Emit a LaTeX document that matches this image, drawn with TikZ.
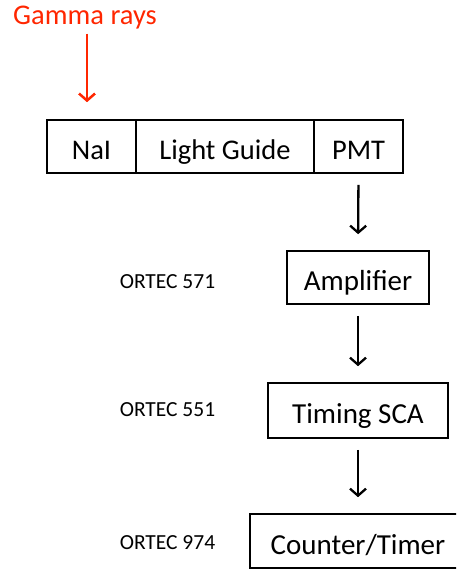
\documentclass[tikz,border=0pt]{standalone}
\usepackage{fontspec}
\setmainfont{Carlito}
\usetikzlibrary{arrows.meta}
\definecolor{gred}{RGB}{255,38,0}
\tikzset{
  cell/.style={draw=black, line width=1.6pt, minimum height=53pt, inner sep=0pt, text height=28pt, text depth=2pt, font=\fontsize{28.5pt}{30pt}\selectfont},
  devbox/.style={draw=black, line width=1.6pt, inner sep=0pt, text height=28pt, text depth=2pt, font=\fontsize{29pt}{31pt}\selectfont},
  model/.style={inner sep=0pt, font=\fontsize{21.5pt}{23pt}\selectfont},
  flow/.style={line width=2.3pt, -{Straight Barb[length=7pt,width=16pt]}, shorten <=11pt, shorten >=16pt},
  gammaarrow/.style={draw=gred, line width=2.5pt, -{Straight Barb[length=7pt,width=16pt]}}
}
\begin{document}
\begin{tikzpicture}[x=1pt,y=1pt]
\clip (0,0) rectangle (456,-569);
\node[inner sep=0pt, text=gred, font=\fontsize{28.5pt}{30pt}\selectfont] (gamma) at (85,-18) {Gamma rays};
\node[cell, minimum width=89pt] (nai) at (91.5,-146.5) {NaI};
\node[cell, minimum width=178pt] (lg) at (225,-146.5) {Light Guide};
\node[cell, minimum width=89pt] (pmt) at (358.5,-146.5) {PMT};
\node[devbox, minimum width=142pt, minimum height=53pt] (amp) at (358,-277.5) {Amplifier};
\node[devbox, minimum width=180pt, minimum height=55pt] (sca) at (358,-410.5) {Timing SCA};
\node[devbox, minimum width=216pt, minimum height=54pt] (ct) at (358,-541) {Counter/Timer};
\node[model] (m571) at (167.5,-282) {ORTEC 571};
\node[model] (m551) at (167.5,-410) {ORTEC 551};
\node[model] (m974) at (167.5,-543) {ORTEC 974};
\draw[gammaarrow, shorten <=4pt, shorten >=17pt] ([xshift=2pt]gamma.south) -- ([xshift=-4.5pt]nai.north);
\draw[flow] (pmt.south) -- (amp.north);
\draw[flow] (amp.south) -- (sca.north);
\draw[flow] (sca.south) -- (ct.north);
\end{tikzpicture}
\end{document}
